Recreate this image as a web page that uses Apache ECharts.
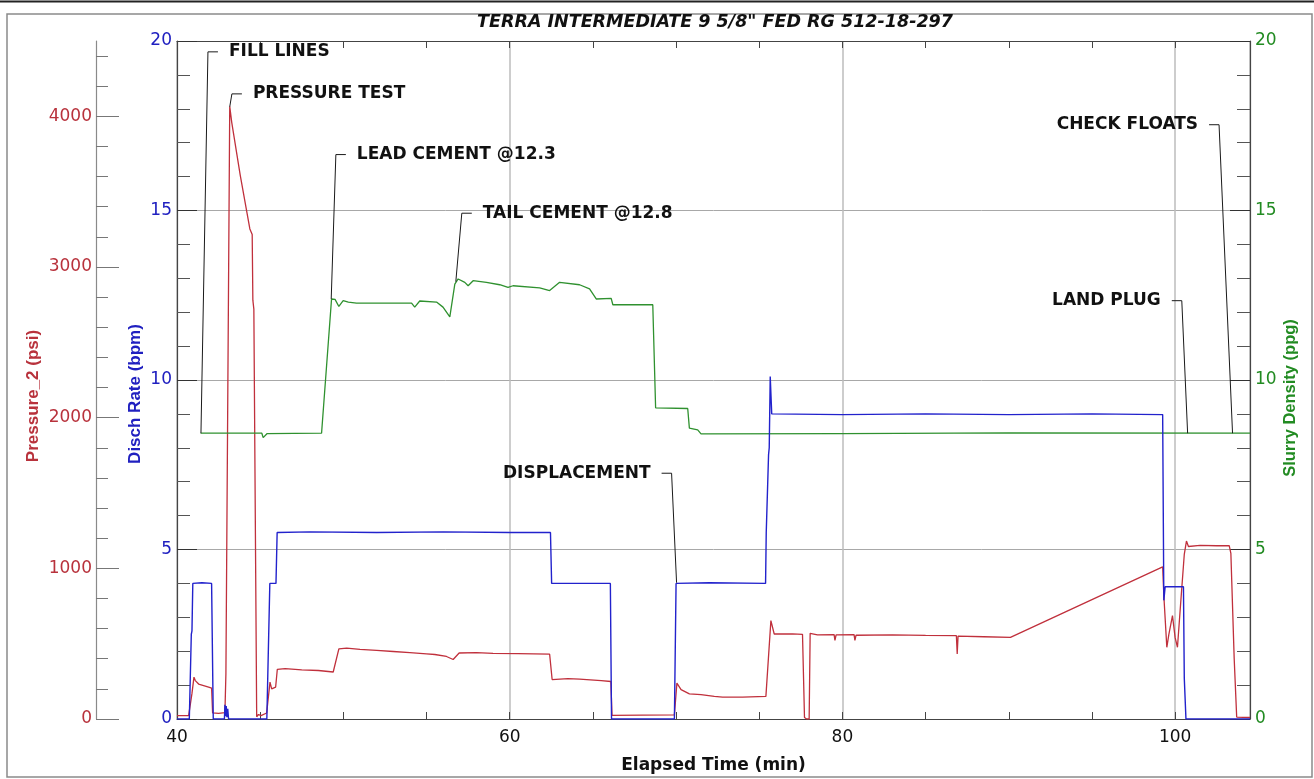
<!DOCTYPE html>
<html><head><meta charset="utf-8">
<script src="https://cdn.jsdelivr.net/npm/echarts@6/dist/echarts.min.js"></script>
<style>html,body{margin:0;padding:0;background:#fff;}#c{width:1314px;height:779px;}</style>
</head><body><div id="c"></div>
<script>
// ---------- texts ----------
const titleText = 'TERRA INTERMEDIATE 9 5/8" FED RG 512-18-297';
const xTitle = 'Elapsed Time (min)';
const pressureTitle = 'Pressure_2 (psi)';
const rateTitle = 'Disch Rate (bpm)';
const densityTitle = 'Slurry Density (ppg)';

// ---------- axes ----------
const timeMin = 40, timeMax = 104.5;
const timeLabels = [40, 60, 80, 100];
const pressureMax = 4500;
const pressureLabels = [0, 1000, 2000, 3000, 4000];
const pressureMinorTicks = [200,400,600,800,1200,1400,1600,1800,2200,2400,2600,2800,3200,3400,3600,3800,4200,4400];
const rateMax = 20, densityMax = 20;

// ---------- series: Pressure_2 (psi) ----------
const pressureTime = [40.0,40.7,40.78,40.9,41.02,41.1,41.3,41.6,41.9,42.08,42.14,42.5,42.88,42.94,43.17,43.29,43.8,44.38,44.52,44.56,44.62,44.79,44.9,45.05,45.39,45.59,45.69,45.93,46.03,46.5,47.5,48.5,49.39,49.5,49.73,50.2,51.0,52.0,53.0,54.0,55.0,55.5,56.2,56.6,56.96,58.0,59.0,60.5,62.4,62.55,63.5,64.2,65.5,66.08,66.15,68.0,69.9,70.05,70.3,70.8,71.5,72.3,72.8,74.0,75.4,75.7,75.9,77.0,77.6,77.72,77.85,78.0,78.06,78.5,79.5,79.55,79.62,80.7,80.75,80.82,83.0,85.0,86.85,86.9,86.95,88.5,90.1,99.25,99.32,99.5,99.62,99.84,100.0,100.14,100.3,100.55,100.68,100.8,101.5,102.5,103.25,103.35,103.55,103.7,104.5];
const pressureValue = [22,22,25,170,278,255,232,222,212,205,40,38,42,300,4066,3960,3610,3253,3215,2780,2720,15,30,22,40,245,200,212,330,335,326,322,312,318,465,470,462,455,448,440,432,428,415,395,438,440,436,434,430,262,268,264,255,249,24,26,28,238,195,167,162,150,145,145,150,653,564,565,562,10,0,0,569,558,560,522,558,560,522,556,558,555,553,432,550,546,542,1010,820,476,560,686,540,476,720,1093,1181,1145,1152,1150,1150,1100,400,13,10];

// ---------- series: Disch Rate (bpm) ----------
const rateTime = [40.0,40.74,40.86,40.9,40.95,41.5,42.08,42.18,42.85,42.88,42.92,42.96,43.0,43.05,43.1,45.4,45.58,45.95,46.02,48.0,52.0,56.0,60.0,62.45,62.52,66.05,66.12,69.9,70.0,72.0,75.38,75.42,75.52,75.56,75.6,75.66,75.75,80.0,85.0,90.0,95.0,99.25,99.32,99.4,100.5,100.55,100.65,104.5];
const rateValue = [0,0,2.5,2.6,4.0,4.02,4.0,0,0,0.42,0.08,0.38,0.05,0.3,0,0,4.0,4.0,5.5,5.52,5.5,5.52,5.5,5.5,4.0,4.0,0,0,4.0,4.02,4.0,5.5,5.55,7.8,8.0,10.1,9.0,8.98,9.0,8.98,9.0,8.98,3.5,3.9,3.9,1.2,0,0];

// ---------- series: Slurry Density (ppg) ----------
const densityTime = [41.42,45.1,45.18,45.3,45.42,48.69,49.29,49.39,49.5,49.73,49.99,50.3,50.79,54.1,54.29,54.59,55.6,55.99,56.4,56.7,56.9,57.3,57.5,57.8,58.6,59.4,59.9,60.2,61.8,62.4,63.0,64.2,64.8,65.2,66.1,66.2,68.6,68.77,70.7,70.8,71.3,71.5,80.0,90.0,104.5];
const densityValue = [8.43,8.43,8.3,8.33,8.42,8.43,12.39,12.42,12.38,12.17,12.34,12.3,12.27,12.27,12.15,12.33,12.3,12.15,11.86,12.83,12.98,12.88,12.78,12.93,12.88,12.81,12.73,12.78,12.72,12.64,12.88,12.81,12.69,12.39,12.41,12.22,12.22,9.18,9.16,8.58,8.53,8.41,8.42,8.44,8.43];

// ---------- event annotations (time, value on 0-20 scale) ----------
const annotText = ['FILL LINES','PRESSURE TEST','LEAD CEMENT @12.3','TAIL CEMENT @12.8','DISPLACEMENT','CHECK FLOATS','LAND PLUG'];
const annotTime = [41.44, 43.17, 49.27, 56.76, 70.03, 103.45, 100.75];
const annotValue = [8.43, 18.06, 12.39, 12.9, 4.02, 8.43, 8.43];
const annotLabelTime = [41.86, 43.3, 49.55, 57.12, 69.73, 102.64, 100.4];
const annotLabelValue = [19.68, 18.44, 16.65, 14.92, 7.25, 17.53, 12.34];
const annotSide = ['right','right','right','right','left','left','left'];

// ---------- build ----------
const zip = (a, b) => a.map((t, i) => [t, b[i]]);
const RED = '#c0303c', BLUE = '#2222cc', GREEN = '#2f912f';
const RED_T = '#b8323c', BLUE_T = '#2020c0', GREEN_T = '#228b22';
const NUMFONT = 'DejaVu Sans';
const AXC = '#444';
const plain = v => String(v);

const chart = echarts.init(document.getElementById('c'), null, {renderer: 'canvas'});
const option = {
  animation: false,
  backgroundColor: '#fff',
  grid: {left: 177, right: 64, top: 41, bottom: 57},
  graphic: [
    {type: 'line', shape: {x1: 0, y1: 1.5, x2: 1314, y2: 1.5}, style: {stroke: '#222', lineWidth: 2}},
    {type: 'rect', shape: {x: 7, y: 14, width: 1305, height: 763}, style: {stroke: '#8a8a8a', lineWidth: 1.5, fill: null}},
    {type: 'text', x: 715, y: 22, style: {text: titleText, font: 'italic bold 17.5px "DejaVu Sans"', fill: '#111', align: 'center', verticalAlign: 'middle'}},
    {type: 'text', x: 33, y: 396, rotation: Math.PI / 2, style: {text: pressureTitle, font: 'bold 17px "Liberation Sans"', fill: RED_T, align: 'center', verticalAlign: 'middle'}},
    {type: 'text', x: 135, y: 394, rotation: Math.PI / 2, style: {text: rateTitle, font: 'bold 17px "Liberation Sans"', fill: BLUE_T, align: 'center', verticalAlign: 'middle'}},
    {type: 'text', x: 1290, y: 398, rotation: Math.PI / 2, style: {text: densityTitle, font: 'bold 16.5px "Liberation Sans"', fill: GREEN_T, align: 'center', verticalAlign: 'middle'}}
  ],
  xAxis: [
    {type: 'value', min: timeMin, max: timeMax, interval: 20, position: 'bottom',
     axisLine: {show: true, onZero: false, lineStyle: {color: AXC, width: 1.2}},
     axisTick: {show: false},
     axisLabel: {customValues: timeLabels, formatter: plain, color: '#111', fontSize: 17, fontFamily: NUMFONT, margin: 10},
     splitLine: {show: true, lineStyle: {color: '#bdbdbd', width: 1.5}},
     name: xTitle, nameLocation: 'middle', nameGap: 38,
     nameTextStyle: {color: '#111', fontSize: 17, fontWeight: 'bold', fontFamily: NUMFONT}},
    {type: 'value', min: timeMin, max: timeMax, interval: 5, position: 'bottom',
     axisLine: {show: false, onZero: false}, axisLabel: {show: false}, splitLine: {show: false},
     axisTick: {show: true, inside: true, length: 7, lineStyle: {color: AXC}}},
    {type: 'value', min: timeMin, max: timeMax, interval: 5, position: 'top',
     axisLine: {show: true, onZero: false, lineStyle: {color: AXC, width: 1.2}}, axisLabel: {show: false}, splitLine: {show: false},
     axisTick: {show: true, inside: true, length: 7, lineStyle: {color: AXC}}}
  ],
  yAxis: [
    {type: 'value', min: 0, max: rateMax, interval: 5, position: 'left',
     axisLine: {show: true, onZero: false, lineStyle: {color: AXC, width: 1.2}},
     axisTick: {show: true, inside: true, length: 20, lineStyle: {color: '#333'}},
     minorTick: {show: true, splitNumber: 5, length: 13, lineStyle: {color: '#555'}},
     axisLabel: {formatter: plain, color: BLUE_T, fontSize: 17, fontFamily: NUMFONT, margin: 5},
     splitLine: {show: true, lineStyle: {color: '#a8a8a8', width: 1}}},
    {type: 'value', min: 0, max: densityMax, interval: 5, position: 'right',
     axisLine: {show: true, onZero: false, lineStyle: {color: AXC, width: 1.2}},
     axisTick: {show: true, inside: true, length: 20, lineStyle: {color: '#333'}},
     minorTick: {show: true, splitNumber: 5, length: 13, lineStyle: {color: '#555'}},
     axisLabel: {formatter: plain, color: GREEN_T, fontSize: 17, fontFamily: NUMFONT, margin: 5},
     splitLine: {show: false}},
    {type: 'value', min: 0, max: pressureMax, position: 'left', offset: 81,
     axisLine: {show: true, onZero: false, lineStyle: {color: '#8a8a8a', width: 1.2}},
     axisTick: {show: true, inside: true, length: 23, customValues: pressureLabels, lineStyle: {color: '#777'}},
     axisLabel: {customValues: pressureLabels, formatter: plain, color: RED_T, fontSize: 17, fontFamily: NUMFONT, margin: 4},
     splitLine: {show: false}},
    {type: 'value', min: 0, max: pressureMax, position: 'left', offset: 81,
     axisLine: {show: false, onZero: false},
     axisTick: {show: true, inside: true, length: 12, customValues: pressureMinorTicks, lineStyle: {color: '#777'}},
     axisLabel: {show: false}, splitLine: {show: false}}
  ],
  series: [
    {name: pressureTitle, type: 'line', xAxisIndex: 0, yAxisIndex: 2, data: zip(pressureTime, pressureValue),
     showSymbol: false, symbol: 'none', lineStyle: {color: RED, width: 1.3}, z: 3},
    {name: densityTitle, type: 'line', xAxisIndex: 0, yAxisIndex: 1, data: zip(densityTime, densityValue),
     showSymbol: false, symbol: 'none', lineStyle: {color: GREEN, width: 1.3}, z: 4},
    {name: rateTitle, type: 'line', xAxisIndex: 0, yAxisIndex: 0, data: zip(rateTime, rateValue),
     showSymbol: false, symbol: 'none', lineStyle: {color: BLUE, width: 1.4}, z: 5},
    {name: 'events', type: 'custom', xAxisIndex: 0, yAxisIndex: 0, clip: false, z: 6,
     encode: {x: [0, 2], y: [1, 3]},
     data: annotTime.map((t, i) => [t, annotValue[i], annotLabelTime[i], annotLabelValue[i]]),
     renderItem: function (params, api) {
       const i = params.dataIndex;
       const a = api.coord([api.value(0), api.value(1)]);
       const c = api.coord([api.value(2), api.value(3)]);
       const dir = annotSide[i] === 'right' ? 1 : -1;
       const e = [c[0] + dir * 10, c[1]];
       return {type: 'group', children: [
         {type: 'polyline', shape: {points: [a, c, e]}, style: {stroke: '#1a1a1a', lineWidth: 1, fill: null}},
         {type: 'text', x: c[0] + dir * 21, y: c[1],
          style: {text: annotText[i], fill: '#111', font: 'bold 17px "DejaVu Sans"', align: dir > 0 ? 'left' : 'right', verticalAlign: 'middle'}}
       ]};
     }}
  ]
};
chart.setOption(option);
</script></body></html>
